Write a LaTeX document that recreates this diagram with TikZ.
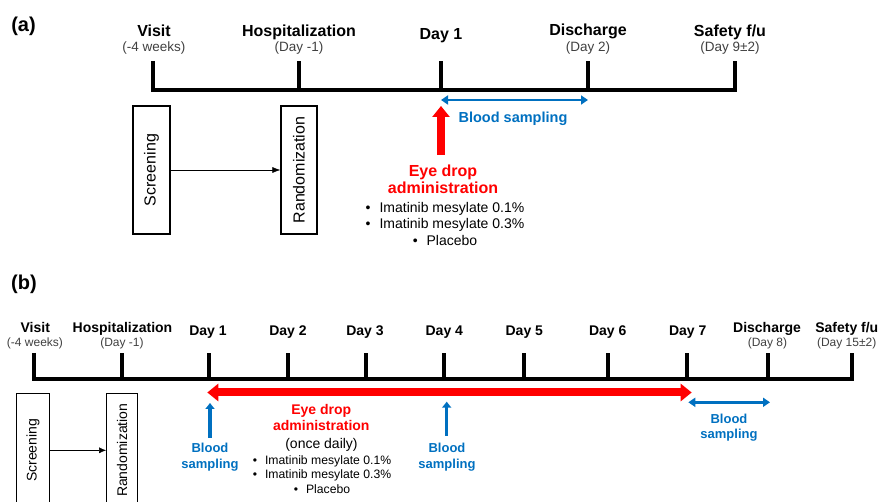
\documentclass[tikz,border=0pt]{standalone}
\usepackage{fontspec}
\setmainfont{Liberation Sans}
\usetikzlibrary{arrows.meta,calc}
\definecolor{sampblue}{RGB}{0,112,192}
\definecolor{dropred}{RGB}{255,0,0}
\newcommand{\fsz}[2]{\fontsize{#1}{#2}\selectfont}
\tikzset{>=latex}
\tikzset{
  timeline/.style={line width=4pt, line join=miter},
  evt/.style={font=\bfseries\fsz{#1}{#1}, anchor=base},
  evt/.default=16,
  evtsub/.style={font=\fsz{#1}{#1}, text=black!75, anchor=base},
  evtsub/.default=13.5,
  phasebox/.style={draw, line width=1.2pt, rotate=90, inner sep=0pt},
  panellbl/.style={font=\bfseries\fsz{20}{22}, anchor=base},
  sampling/.style={font=\bfseries\fsz{#1}{15.5}, text=sampblue, align=center},
  sampling/.default=14.5,
  droplbl/.style={font=\bfseries\fsz{#1}{17}, text=dropred, align=center},
  droplbl/.default=16,
  armlist/.style={font=\fsz{#1}{16.5}, align=center},
  armlist/.default=14,
  sampdbl/.style={sampblue, line width=2.5pt, {Triangle[width=9pt,length=7pt]}-{Triangle[width=9pt,length=7pt]}},
}

\begin{document}
\begin{tikzpicture}[x=1pt,y=-1pt]
    \useasboundingbox (0,0) rectangle (879,502);
    \clip (0,0) rectangle (879,502);
    \def\tickA{29}
    \def\tickB{26}

    % (a) single dose
    \node[panellbl] (pa) at (23.5,32) {(a)};

    \coordinate (aVisit) at (153,90);
    \coordinate (aHosp) at (299,90);
    \coordinate (aDay1) at (441,90);
    \coordinate (aDisc) at (588,90);
    \coordinate (aSafe) at (735,90);

    \draw[timeline] ($(aVisit)+(0,-\tickA)$) -- (aVisit) -- (aSafe) -- ($(aSafe)+(0,-\tickA)$);
    \foreach \t in {aHosp,aDay1,aDisc}
        \draw[timeline] (\t) -- ($(\t)+(0,-\tickA)$);

    \node[evt] (aVisitL) at (154,37) {Visit};
    \node[evtsub] (aVisitS) at (154,52) {(-4 weeks)};
    \node[evt] (aHospL) at (299,37) {Hospitalization};
    \node[evtsub] (aHospS) at (299,52) {(Day -1)};
    \node[evt] (aDay1L) at (441,40) {Day 1};
    \node[evt] (aDiscL) at (588,36) {Discharge};
    \node[evtsub] (aDiscS) at (588,51.5) {(Day 2)};
    \node[evt] (aSafeL) at (730,37) {Safety f/u};
    \node[evtsub] (aSafeS) at (730,52) {(Day 9±2)};

    \node[phasebox, font=\fsz{16}{16}, minimum width=128pt, minimum height=37pt] (aScr) at (151.5,170) {Screening};
    \node[phasebox, font=\fsz{16}{16}, minimum width=128pt, minimum height=36pt] (aRand) at (299,170) {Randomization};
    \draw[-{Latex[length=8pt,width=6pt]}, line width=0.6pt] (aScr) -- (aRand);

    \coordinate (aDrop) at (441,155);
    \draw[dropred, line width=8pt, -{Triangle[width=17pt,length=11pt]}] (aDrop) -- ($(aDay1)+(0,16)$);
    \draw[sampdbl] ($(aDay1)+(0,10)$) -- ($(aDisc)+(0,10)$);
    \node[sampling, anchor=base] (aSampL) at (513,123) {Blood sampling};

    \node[droplbl] (aDropL) at (443,179) {Eye drop\\administration};
    \node[armlist] (aArms) at (445,223.5) {\textbullet\hspace{9pt}Imatinib mesylate 0.1\%\\\textbullet\hspace{9pt}Imatinib mesylate 0.3\%\\\textbullet\hspace{9pt}Placebo};

    % (b) multiple dose
    \node[panellbl] (pb) at (24,290) {(b)};

    \foreach \x/\n in {33.5/bVisit,122/bHosp,209/bDay1,288/bDay2,366/bDay3,444/bDay4,524/bDay5,608/bDay6,687/bDay7,768/bDisc,852/bSafe}
        \coordinate (\n) at (\x,379);

    \draw[timeline] ($(bVisit)+(0,-\tickB)$) -- (bVisit) -- (bSafe) -- ($(bSafe)+(0,-\tickB)$);
    \foreach \t in {bHosp,bDay1,bDay2,bDay3,bDay4,bDay5,bDay6,bDay7,bDisc}
        \draw[timeline] (\t) -- ($(\t)+(0,-\tickB)$);

    \node[evt=14] (bVisitL) at (35.3,333) {Visit};
    \node[evtsub=12] (bVisitS) at (35,347) {(-4 weeks)};
    \node[evt=14] (bHospL) at (122.5,333) {Hospitalization};
    \node[evtsub=12] (bHospS) at (122,347) {(Day -1)};
    \node[evt=14] (bDay1L) at (208,335.7) {Day 1};
    \node[evt=14] (bDay2L) at (288,335.7) {Day 2};
    \node[evt=14] (bDay3L) at (365,335.7) {Day 3};
    \node[evt=14] (bDay4L) at (444.3,335.7) {Day 4};
    \node[evt=14] (bDay5L) at (524.3,335.7) {Day 5};
    \node[evt=14] (bDay6L) at (607.7,335.7) {Day 6};
    \node[evt=14] (bDay7L) at (687.7,335.7) {Day 7};
    \node[evt=14] (bDiscL) at (767,333) {Discharge};
    \node[evtsub=12] (bDiscS) at (767.5,347) {(Day 8)};
    \node[evt=14] (bSafeL) at (846.8,333) {Safety f/u};
    \node[evtsub=12] (bSafeS) at (846.7,347) {(Day 15±2)};

    \node[phasebox, font=\fsz{14}{14}, minimum width=114pt, minimum height=32.6pt] (bScr) at (33,450.3) {Screening};
    \node[phasebox, font=\fsz{14}{14}, minimum width=114pt, minimum height=31pt] (bRand) at (122.2,450.3) {Randomization};
    \draw[-{Latex[length=7pt,width=6pt]}, line width=0.6pt] (bScr) -- (bRand);

    \draw[dropred, line width=8pt, {Triangle[width=17pt,length=11pt]}-{Triangle[width=17pt,length=11pt]}] ($(bDay1)+(-1.7,13.5)$) -- ($(bDay7)+(4.7,13.5)$);
    \draw[sampdbl] ($(bDay7)+(1.3,23.3)$) -- ($(bDisc)+(2,23.3)$);

    \coordinate (bSamp1) at (210,438);
    \coordinate (bSamp4) at (446.7,436);
    \draw[sampblue, line width=3.5pt, -{Triangle[width=9pt,length=6pt]}] (bSamp1) -- ($(bDay1)+(1,24)$);
    \draw[sampblue, line width=3.5pt, -{Triangle[width=9pt,length=6pt]}] (bSamp4) -- ($(bDay4)+(2.7,22.7)$);

    \node[sampling=13] (bSamp1L) at (210,457) {Blood\\sampling};
    \node[sampling=13] (bSamp4L) at (447,457) {Blood\\sampling};
    \node[sampling=13] (bSamp7L) at (729,427.5) {Blood\\sampling};

    \node[droplbl=14, font=\bfseries\fsz{14}{15.7}] (bDropL) at (321.3,417.8) {Eye drop\\administration};
    \node[font=\fsz{14}{14}] (bDaily) at (321.5,445) {(once daily)};
    \node[armlist=12.2, font=\fsz{12.2}{14.6}] (bArms) at (322,474.3) {\textbullet\hspace{8pt}Imatinib mesylate 0.1\%\\\textbullet\hspace{8pt}Imatinib mesylate 0.3\%\\\textbullet\hspace{8pt}Placebo};
\end{tikzpicture}
\end{document}
